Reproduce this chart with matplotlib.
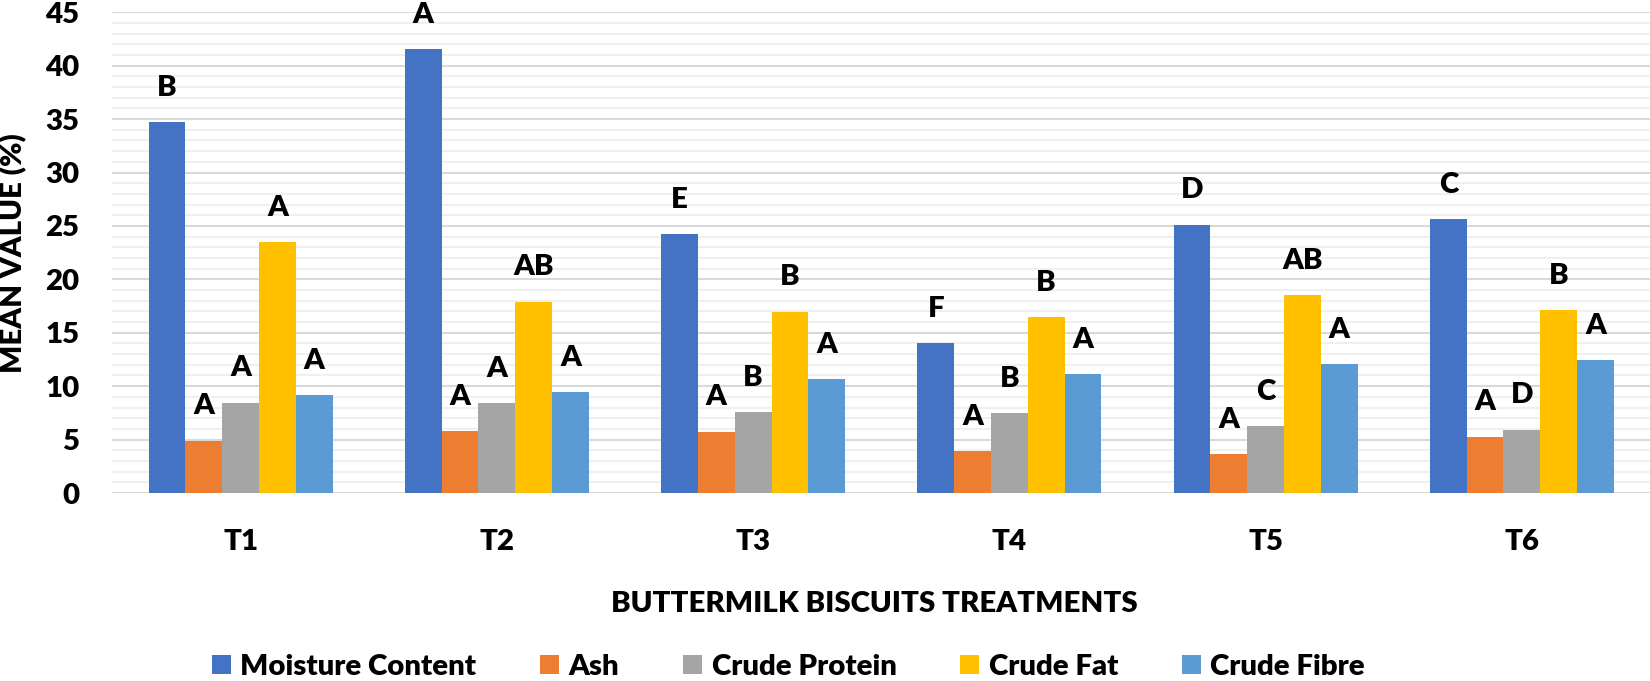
import matplotlib
matplotlib.use("Agg")
import matplotlib.pyplot as plt
import numpy as np
from matplotlib.patches import Patch

treatments = ["T1", "T2", "T3", "T4", "T5", "T6"]
series_names = ["Moisture Content", "Ash", "Crude Protein", "Crude Fat", "Crude Fibre"]
moisture = [34.71, 41.57, 24.22, 14.02, 25.12, 25.63]
ash = [4.90, 5.81, 5.74, 3.93, 3.65, 5.27]
protein = [8.46, 8.40, 7.58, 7.49, 6.25, 5.93]
fat = [23.47, 17.91, 16.98, 16.45, 18.54, 17.11]
fibre = [9.18, 9.46, 10.65, 11.14, 12.08, 12.43]

moisture_sig = ["B", "A", "E", "F", "D", "C"]
ash_sig = ["A", "A", "A", "A", "A", "A"]
protein_sig = ["A", "A", "B", "B", "C", "D"]
fat_sig = ["A", "AB", "B", "B", "AB", "B"]
fibre_sig = ["A", "A", "A", "A", "A", "A"]

colors = ["#4472C4", "#ED7D31", "#A5A5A5", "#FFC000", "#5B9BD5"]

FONT = ["Lato", "DejaVu Sans"]
plt.rcParams["font.family"] = FONT
WEIGHT = "heavy"
plt.rcParams["font.weight"] = WEIGHT

W, H = 1650, 681
fig = plt.figure(figsize=(W / 100, H / 100), dpi=100)
renderer = fig.canvas.get_renderer()

# calibrate font size so the axis title has the reference width (~526 px)
xl = fig.text(874 / W, 1 - 611.7 / H, "BUTTERMILK BISCUITS TREATMENTS", ha="center",
              va="baseline", fontsize=20, fontweight=WEIGHT)
w20 = xl.get_window_extent(renderer).width
FS = 20 * 526 / w20
xl.set_fontsize(FS)
fs_px = FS * 100 / 72

ax = fig.add_axes([112.5 / W, (H - 493) / H, 1 - 112.5 / W, (493 - 12.3) / H])

x = np.arange(len(treatments))
bw = 0.1436
all_vals = [moisture, ash, protein, fat, fibre]
all_sig = [moisture_sig, ash_sig, protein_sig, fat_sig, fibre_sig]
for i, (vals, sig) in enumerate(zip(all_vals, all_sig)):
    xs = x + (i - 2) * bw
    ax.bar(xs, vals, width=bw, color=colors[i], zorder=3, linewidth=0)
    for xi, v, s in zip(xs, vals, sig):
        ax.annotate(s, xy=(xi, v), xytext=(0, 26.3 * 0.72), textcoords="offset points",
                    ha="center", va="baseline", fontsize=FS, fontweight=WEIGHT,
                    color="black")

ax.set_xlim(-0.5, len(treatments) - 0.5)
ax.set_ylim(0, 45)
ax.set_yticks(np.arange(0, 46, 5))
ax.set_yticks(np.arange(0, 46, 1), minor=True)
ax.grid(axis="y", which="minor", color="#F0F0F0", linewidth=1.5, zorder=0)
ax.grid(axis="y", which="major", color="#D9D9D9", linewidth=1.5, zorder=1)
ax.axhline(0, color="#D9D9D9", linewidth=2.2, zorder=2)
ax.set_axisbelow(True)
for sp in ax.spines.values():
    sp.set_visible(False)

ax.set_xticks(x)
ax.set_xticklabels(treatments, fontsize=FS, fontweight=WEIGHT)
for lab in ax.get_xticklabels():
    lab.set_va("baseline")
ax.tick_params(axis="x", length=0, pad=57 * 0.72)
ax.tick_params(axis="y", which="both", length=0, pad=33.2 * 0.72, labelsize=FS)
for lab in ax.get_yticklabels():
    lab.set_fontweight(WEIGHT)

fig.text(13.5 / W, 1 - 253.5 / H, "MEAN VALUE (%)", rotation=90, ha="center",
         va="center", fontsize=FS, fontweight=WEIGHT)

handles = [Patch(facecolor=c, edgecolor="none", label=n) for c, n in zip(colors, series_names)]


def make_legend(colsp_px):
    lg = fig.legend(handles=handles, loc="lower center",
                    bbox_to_anchor=(788.5 / W, 1 - 680 / H),
                    ncol=5, frameon=False, fontsize=FS, handlelength=19 / fs_px,
                    handleheight=19 / fs_px, handletextpad=9.3 / fs_px,
                    columnspacing=colsp_px / fs_px, borderpad=0, borderaxespad=0)
    for t in lg.get_texts():
        t.set_fontweight(WEIGHT)
    return lg


colsp0 = 52
leg = make_legend(colsp0)
wl = leg.get_window_extent(renderer).width
content = wl - 4 * colsp0
colsp = max(20, (1153 - content) / 4)
leg.remove()
leg = make_legend(colsp)

fig.savefig("out.png", dpi=100)
